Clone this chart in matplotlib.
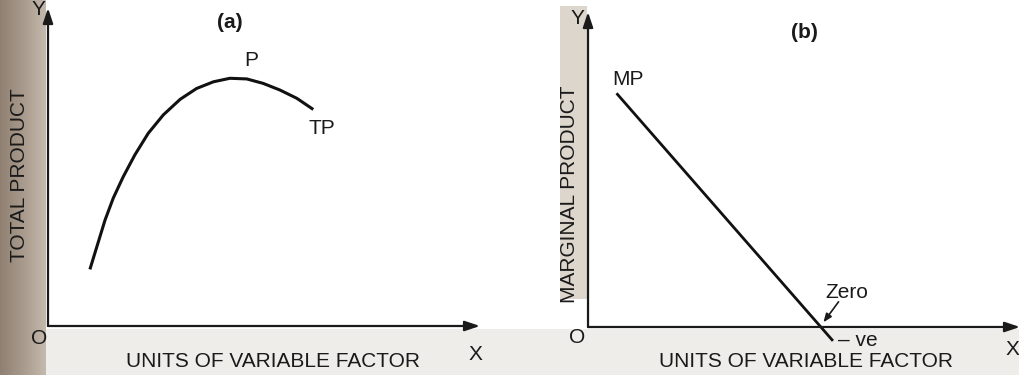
import numpy as np
import matplotlib.pyplot as plt
from matplotlib.colors import LinearSegmentedColormap
from matplotlib.patches import Rectangle

plt.rcParams['font.family'] = ['Liberation Sans', 'DejaVu Sans']

# Total product curve (panel a), units of variable factor vs output
tp_x = [0.97, 1.13, 1.32, 1.51, 1.74, 2.01, 2.32, 2.67, 3.06, 3.44, 3.83,
        4.21, 4.60, 4.98, 5.37, 5.76, 6.14]
tp_y = [1.78, 2.49, 3.33, 4.02, 4.69, 5.38, 6.06, 6.64, 7.13, 7.47, 7.68,
        7.79, 7.77, 7.63, 7.42, 7.16, 6.81]

# Marginal product line (panel b)
mp_x = [0.66, 5.67]
mp_y = [7.42, -0.44]

x_label = 'UNITS OF VARIABLE FACTOR'
y_labels = ['TOTAL PRODUCT', 'MARGINAL PRODUCT']
titles = ['(a)', '(b)']

fig = plt.figure(figsize=(10.2, 3.75), dpi=100)
fig.patch.set_facecolor('white')

ax_a = fig.add_axes([0, 0, 0.5, 1])
ax_b = fig.add_axes([0.5, 0, 0.5, 1])
ax_a.set_xlim(-1.111, 10.694)
ax_a.set_ylim(-1.541, 10.252)
ax_b.set_xlim(-1.806, 10.0)
ax_b.set_ylim(-1.524, 10.381)
for ax in (ax_a, ax_b):
    ax.axis('off')

# Scanned page shading on the left edges and along the bottom
grad = np.linspace(0, 1, 50).reshape(1, -1)
band = LinearSegmentedColormap.from_list('band', ['#8f8072', '#a89a8c', '#c4b9ad'])
ax_a.imshow(grad, cmap=band, extent=(-1.111, -0.05, -1.541, 10.252),
            aspect='auto', zorder=0)
ax_b.add_patch(Rectangle((-0.65, 0.9), 0.62, 9.3, color='#ddd6cc', lw=0, zorder=0))
ax_a.add_patch(Rectangle((-0.05, -1.541), 11, 1.45, color='#efedea', lw=0, zorder=0))
ax_b.add_patch(Rectangle((-1.806, -1.524), 12, 1.45, color='#efedea', lw=0, zorder=0))

arrow = dict(arrowstyle='-|>,head_length=0.9,head_width=0.3', color='#1a1a1a', lw=1.6,
             shrinkA=0, shrinkB=0)
txt = dict(color='#1a1a1a', fontsize=15)

# Panel (a)
ax_a.annotate('', xy=(0, 10.0), xytext=(0, 0), arrowprops=arrow)
ax_a.annotate('', xy=(10.0, 0), xytext=(0, 0), arrowprops=arrow)
ax_a.plot(tp_x, tp_y, color='#111111', lw=2.2, solid_capstyle='butt',
          solid_joinstyle='round')
ax_a.text(-0.22, 9.95, 'Y', ha='center', va='center', **txt)
ax_a.text(-0.2, -0.38, 'O', ha='center', va='center', **txt)
ax_a.text(9.9, -0.9, 'X', ha='center', va='center', **txt)
ax_a.text(4.2, 9.55, titles[0], ha='center', va='center', fontweight='bold', **txt)
ax_a.text(4.7, 8.36, 'P', ha='center', va='center', **txt)
ax_a.text(6.35, 6.22, 'TP', ha='center', va='center', **txt)
ax_a.text(5.2, -1.13, x_label, ha='center', va='center', **txt)
ax_a.text(-0.65, 4.75, y_labels[0], ha='center', va='center', rotation=90, **txt)

# Panel (b)
ax_b.annotate('', xy=(10.0, 0), xytext=(0, 0), arrowprops=arrow)
ax_b.annotate('', xy=(0, 10.0), xytext=(0, 0), arrowprops=arrow)
ax_b.plot(mp_x, mp_y, color='#111111', lw=2.0, solid_capstyle='butt')
ax_b.text(-0.25, 9.8, 'Y', ha='center', va='center', **txt)
ax_b.text(-0.25, -0.33, 'O', ha='center', va='center', **txt)
ax_b.text(9.82, -0.72, 'X', ha='center', va='center', **txt)
ax_b.text(5.0, 9.35, titles[1], ha='center', va='center', fontweight='bold', **txt)
ax_b.text(0.93, 7.85, 'MP', ha='center', va='center', **txt)
ax_b.text(6.0, 1.1, 'Zero', ha='center', va='center', **txt)
ax_b.annotate('', xy=(5.45, 0.15), xytext=(5.8, 0.8),
              arrowprops=dict(arrowstyle='-|>,head_length=0.5,head_width=0.2',
                              color='#1a1a1a', lw=1.2, shrinkA=0, shrinkB=0))
ax_b.text(6.25, -0.42, '– ve', ha='center', va='center', **txt)
ax_b.text(5.05, -1.11, x_label, ha='center', va='center', **txt)
ax_b.text(-0.42, 4.2, y_labels[1], ha='center', va='center', rotation=90, **txt)

fig.savefig('out.png', dpi=100)
